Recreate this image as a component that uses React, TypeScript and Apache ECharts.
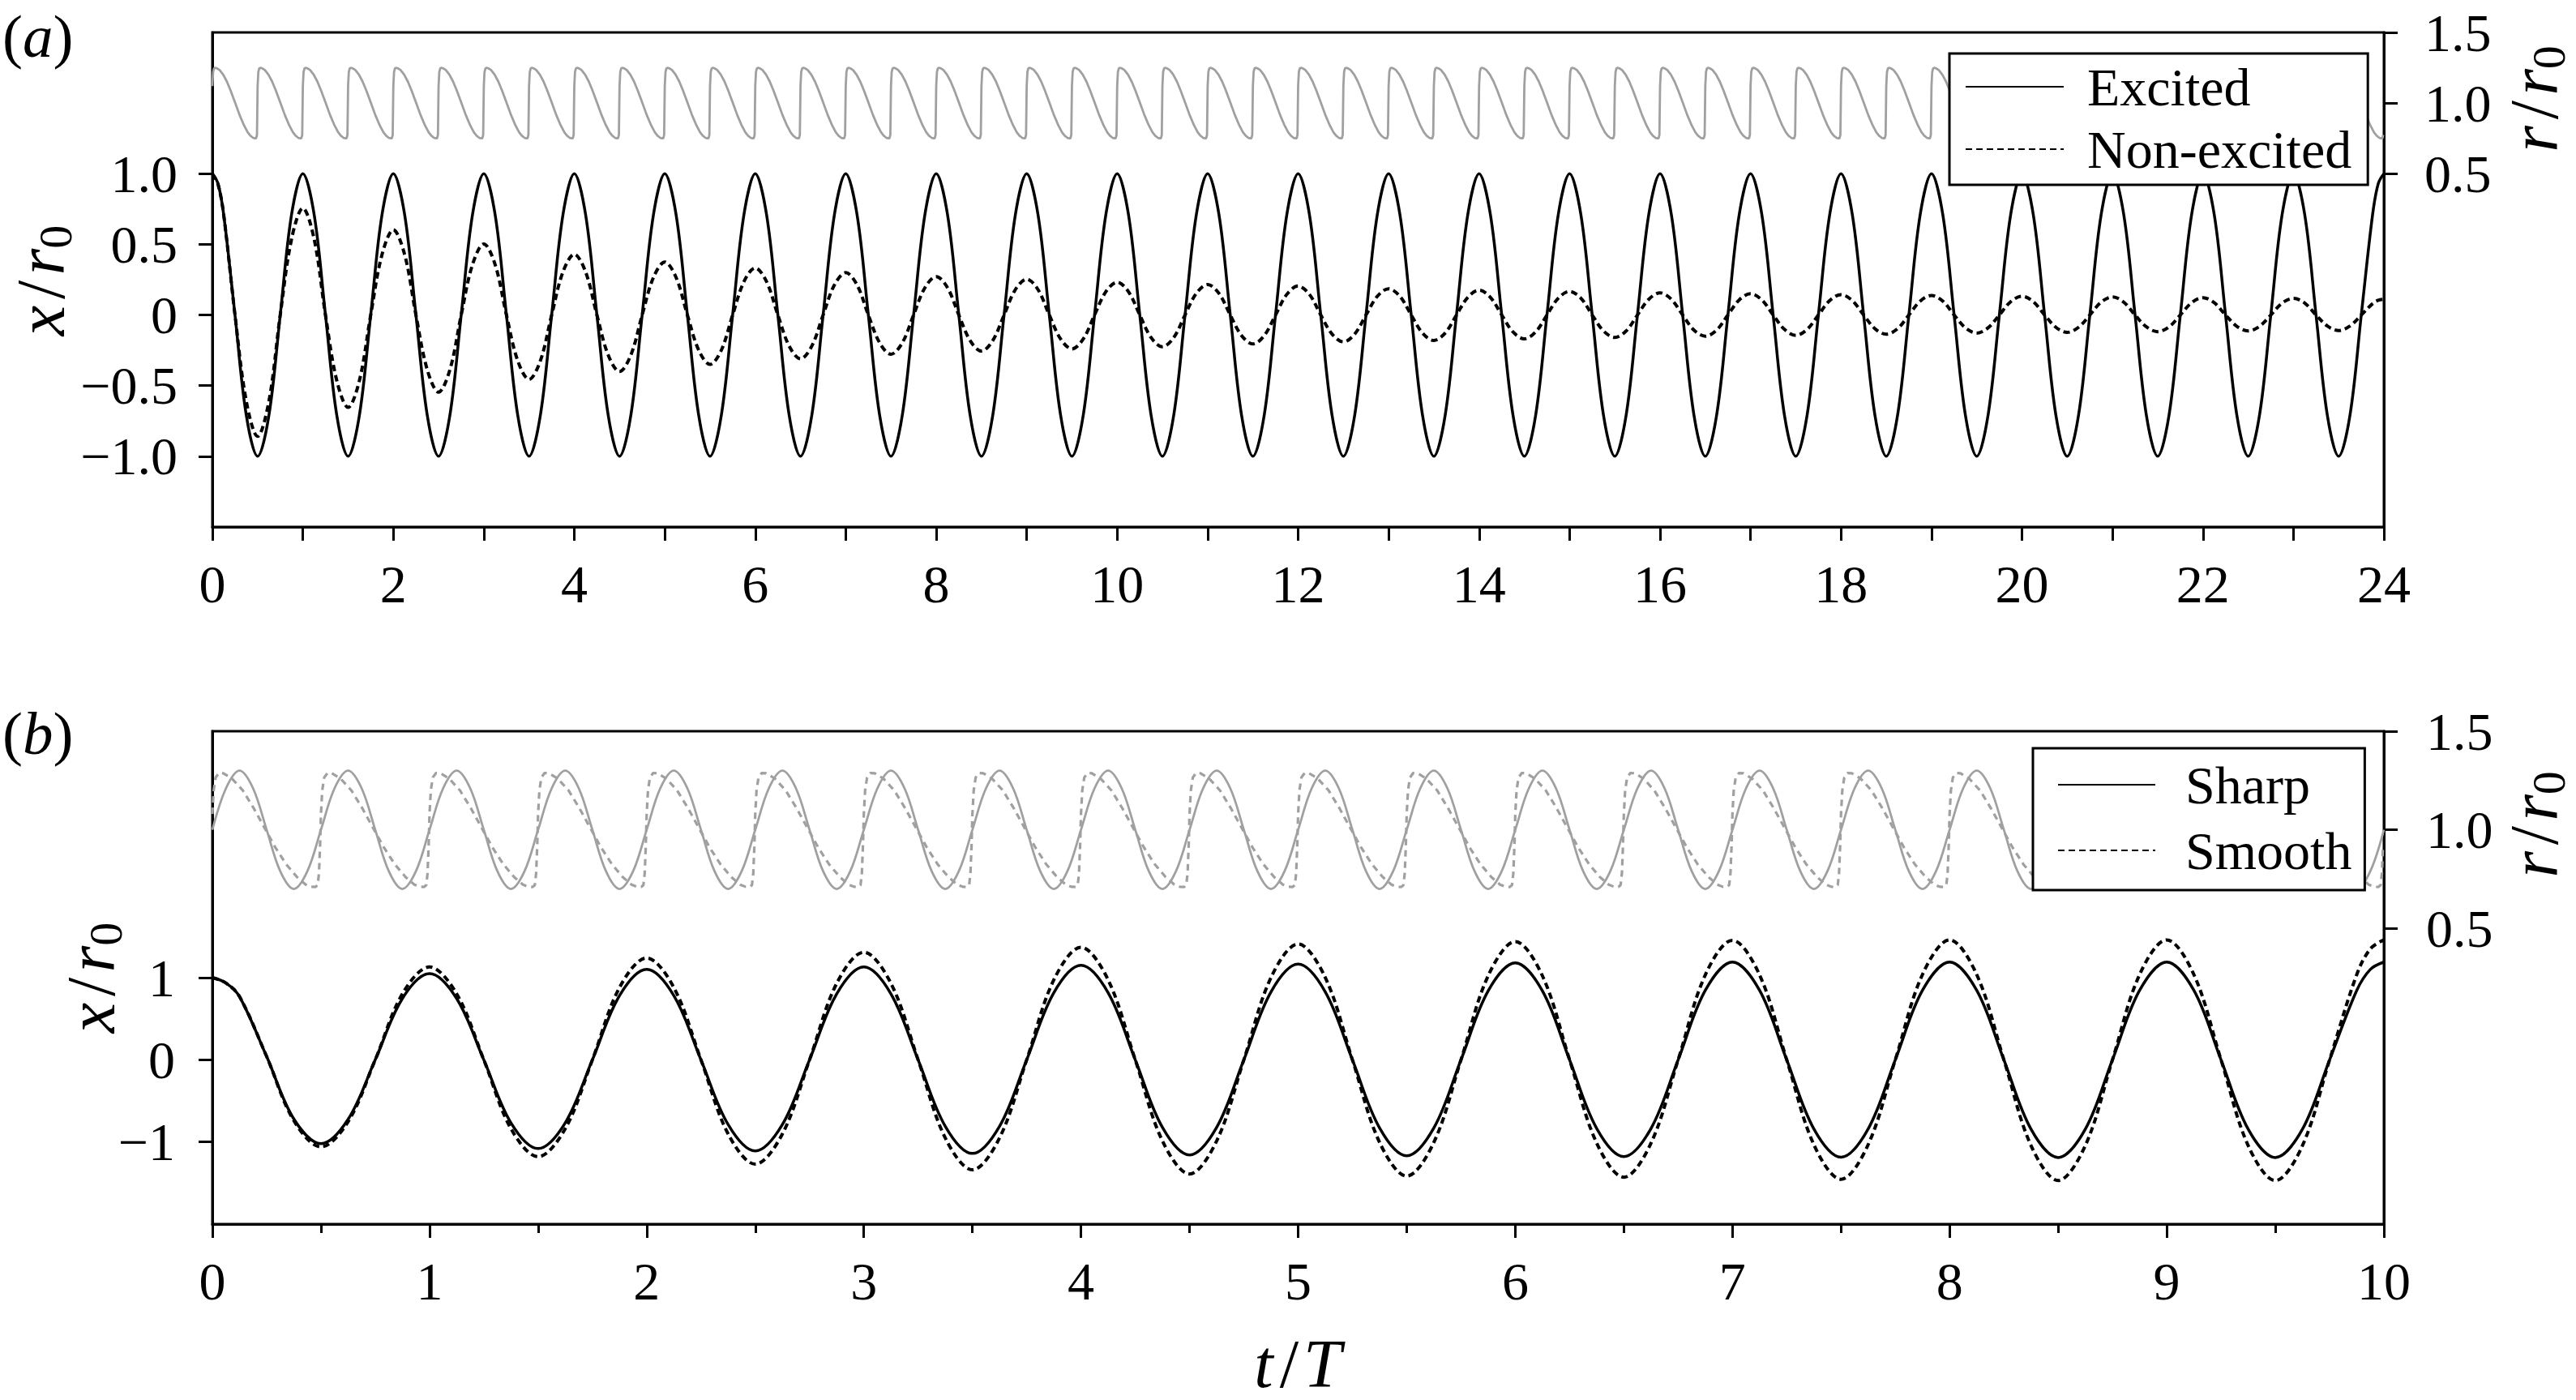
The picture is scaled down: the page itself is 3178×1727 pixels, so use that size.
import React, { useEffect, useRef } from "react";
import * as echarts from "echarts";

const FONT = "'Liberation Serif', 'Times New Roman', Times, serif";
const BLACK = "#000000";
const GRAY = "#a0a0a0";

// ---------- Panel (a): x/r0 vs t/T (0..24), sampled every 1/8 period ----------
const STEP_A = 0.125;
const excitedA = [
  1, 0.71, 0, -0.71, -1, -0.71, 0, 0.71,
  1, 0.71, 0, -0.71, -1, -0.71, 0, 0.71,
  1, 0.71, 0, -0.71, -1, -0.71, 0, 0.71,
  1, 0.71, 0, -0.71, -1, -0.71, 0, 0.71,
  1, 0.71, 0, -0.71, -1, -0.71, 0, 0.71,
  1, 0.71, 0, -0.71, -1, -0.71, 0, 0.71,
  1, 0.71, 0, -0.71, -1, -0.71, 0, 0.71,
  1, 0.71, 0, -0.71, -1, -0.71, 0, 0.71,
  1, 0.71, 0, -0.71, -1, -0.71, 0, 0.71,
  1, 0.71, 0, -0.71, -1, -0.71, 0, 0.71,
  1, 0.71, 0, -0.71, -1, -0.71, 0, 0.71,
  1, 0.71, 0, -0.71, -1, -0.71, 0, 0.71,
  1, 0.71, 0, -0.71, -1, -0.71, 0, 0.71,
  1, 0.71, 0, -0.71, -1, -0.71, 0, 0.71,
  1, 0.71, 0, -0.71, -1, -0.71, 0, 0.71,
  1, 0.71, 0, -0.71, -1, -0.71, 0, 0.71,
  1, 0.71, 0, -0.71, -1, -0.71, 0, 0.71,
  1, 0.71, 0, -0.71, -1, -0.71, 0, 0.71,
  1, 0.71, 0, -0.71, -1, -0.71, 0, 0.71,
  1, 0.71, 0, -0.71, -1, -0.71, 0, 0.71,
  1, 0.71, 0, -0.71, -1, -0.71, 0, 0.71,
  1, 0.71, 0, -0.71, -1, -0.71, 0, 0.71,
  1, 0.71, 0, -0.71, -1, -0.71, 0, 0.71,
  1, 0.71, 0, -0.71, -1, -0.71, 0, 0.71,
  1,
];
const nonExcitedA = [
  1.0, 0.71, 0, -0.61, -0.859, -0.61, 0, 0.537,
  0.756, 0.537, 0, -0.464, -0.654, -0.464, 0, 0.428,
  0.603, 0.428, 0, -0.388, -0.546, -0.388, 0, 0.357,
  0.503, 0.357, 0, -0.324, -0.456, -0.324, 0, 0.305,
  0.43, 0.305, 0, -0.284, -0.4, -0.284, 0, 0.266,
  0.375, 0.266, 0, -0.249, -0.35, -0.249, 0, 0.236,
  0.333, 0.236, 0, -0.22, -0.31, -0.22, 0, 0.213,
  0.3, 0.213, 0, -0.197, -0.278, -0.197, 0, 0.193,
  0.272, 0.193, 0, -0.181, -0.255, -0.181, 0, 0.18,
  0.253, 0.18, 0, -0.17, -0.24, -0.17, 0, 0.165,
  0.232, 0.165, 0, -0.16, -0.225, -0.16, 0, 0.153,
  0.216, 0.153, 0, -0.146, -0.205, -0.146, 0, 0.146,
  0.205, 0.146, 0, -0.135, -0.19, -0.135, 0, 0.132,
  0.186, 0.132, 0, -0.128, -0.18, -0.128, 0, 0.125,
  0.176, 0.125, 0, -0.12, -0.169, -0.12, 0, 0.119,
  0.167, 0.119, 0, -0.113, -0.159, -0.113, 0, 0.111,
  0.157, 0.111, 0, -0.107, -0.15, -0.107, 0, 0.107,
  0.151, 0.107, 0, -0.102, -0.144, -0.102, 0, 0.102,
  0.144, 0.102, 0, -0.097, -0.136, -0.097, 0, 0.098,
  0.138, 0.098, 0, -0.091, -0.128, -0.091, 0, 0.094,
  0.133, 0.094, 0, -0.087, -0.123, -0.087, 0, 0.091,
  0.128, 0.091, 0, -0.084, -0.118, -0.084, 0, 0.087,
  0.123, 0.087, 0, -0.08, -0.113, -0.08, 0, 0.084,
  0.118, 0.084, 0, -0.078, -0.11, -0.078, 0, 0.08,
  0.112,
];
// extra readings 1/16 period inside both ends (t = 0.0625 and t = 23.9375)
const excitedEndsA = [[0.0625, 0.93], [23.9375, 0.93]];
const nonExcitedEndsA = [[0.0625, 0.925], [23.9375, 0.104]];

// r/r0 in panel (a): one saw-tooth cycle (period 0.5), repeated
const R_PERIOD_A = 0.5;
const R_CYCLES_A = 48;
const rOffsetsA = [0, 0.008, 0.018, 0.03, 0.05, 0.08, 0.12, 0.16, 0.2, 0.25, 0.3, 0.35, 0.39, 0.42, 0.45, 0.475, 0.484, 0.493];
const rValuesA = [1.12, 1.22, 1.245, 1.25, 1.246, 1.234, 1.201, 1.153, 1.091, 1.005, 0.917, 0.842, 0.793, 0.769, 0.754, 0.75, 0.752, 0.775];

// ---------- Panel (b): x/r0 vs t/T (0..10) ----------
const STEP_B = 0.125;
const sharpB = [
  1.0, 0.77, 0.04, -0.72, -1.02, -0.724, 0, 0.746,
  1.05, 0.746, 0, -0.767, -1.08, -0.767, 0, 0.781,
  1.1, 0.781, 0, -0.788, -1.11, -0.788, 0, 0.802,
  1.13, 0.802, 0, -0.809, -1.14, -0.809, 0, 0.817,
  1.15, 0.817, 0, -0.822, -1.158, -0.822, 0, 0.827,
  1.165, 0.827, 0, -0.829, -1.168, -0.829, 0, 0.838,
  1.18, 0.838, 0, -0.836, -1.178, -0.836, 0, 0.845,
  1.19, 0.845, 0, -0.841, -1.185, -0.841, 0, 0.845,
  1.19, 0.845, 0, -0.845, -1.19, -0.845, 0, 0.845,
  1.19, 0.845, 0, -0.845, -1.19, -0.845, 0, 0.845,
  1.19,
];
const smoothB = [
  1.0, 0.77, 0.04, -0.74, -1.06, -0.753, 0, 0.802,
  1.13, 0.802, 0, -0.838, -1.18, -0.838, 0, 0.88,
  1.24, 0.88, 0, -0.902, -1.27, -0.902, 0, 0.93,
  1.31, 0.93, 0, -0.951, -1.34, -0.951, 0, 0.973,
  1.37, 0.973, 0, -0.987, -1.39, -0.987, 0, 1.001,
  1.41, 1.001, 0, -1.005, -1.416, -1.005, 0, 1.022,
  1.44, 1.022, 0, -1.015, -1.43, -1.015, 0, 1.033,
  1.455, 1.033, 0, -1.033, -1.455, -1.033, 0, 1.037,
  1.46, 1.037, 0, -1.044, -1.47, -1.044, 0, 1.037,
  1.46, 1.037, 0, -1.044, -1.47, -1.044, 0, 1.037,
  1.46,
];
const sharpEndsB = [[0.0625, 0.935], [9.9375, 1.1]];
const smoothEndsB = [[0.0625, 0.935], [9.9375, 1.35]];

// r/r0 for the sharp case, sampled every 1/16
const STEP_RB = 0.0625;
const rSharpB = [
  1, 1.21, 1.3, 1.21, 1, 0.79, 0.7, 0.79,
  1, 1.21, 1.3, 1.21, 1, 0.79, 0.7, 0.79,
  1, 1.21, 1.3, 1.21, 1, 0.79, 0.7, 0.79,
  1, 1.21, 1.3, 1.21, 1, 0.79, 0.7, 0.79,
  1, 1.21, 1.3, 1.21, 1, 0.79, 0.7, 0.79,
  1, 1.21, 1.3, 1.21, 1, 0.79, 0.7, 0.79,
  1, 1.21, 1.3, 1.21, 1, 0.79, 0.7, 0.79,
  1, 1.21, 1.3, 1.21, 1, 0.79, 0.7, 0.79,
  1, 1.21, 1.3, 1.21, 1, 0.79, 0.7, 0.79,
  1, 1.21, 1.3, 1.21, 1, 0.79, 0.7, 0.79,
  1, 1.21, 1.3, 1.21, 1, 0.79, 0.7, 0.79,
  1, 1.21, 1.3, 1.21, 1, 0.79, 0.7, 0.79,
  1, 1.21, 1.3, 1.21, 1, 0.79, 0.7, 0.79,
  1, 1.21, 1.3, 1.21, 1, 0.79, 0.7, 0.79,
  1, 1.21, 1.3, 1.21, 1, 0.79, 0.7, 0.79,
  1, 1.21, 1.3, 1.21, 1, 0.79, 0.7, 0.79,
  1, 1.21, 1.3, 1.21, 1, 0.79, 0.7, 0.79,
  1, 1.21, 1.3, 1.21, 1, 0.79, 0.7, 0.79,
  1, 1.21, 1.3, 1.21, 1, 0.79, 0.7, 0.79,
  1, 1.21, 1.3, 1.21, 1, 0.79, 0.7, 0.79,
  1,
];
// r/r0 for the smooth case: one cycle (period 0.5), repeated
const R_PERIOD_B = 0.5;
const R_CYCLES_B = 20;
const rSmoothOffsetsB = [0, 0.006, 0.015, 0.03, 0.05, 0.09, 0.14, 0.19, 0.24, 0.29, 0.34, 0.39, 0.43, 0.455, 0.475, 0.485, 0.491, 0.496];
const rSmoothValuesB = [1.08, 1.2, 1.265, 1.288, 1.287, 1.26, 1.2, 1.11, 1.01, 0.91, 0.825, 0.76, 0.722, 0.711, 0.71, 0.72, 0.78, 0.92];

// ---------- tick values ----------
const xMaxA = 24;
const xMaxB = 10;
const yTicksA = [-1, -0.5, 0, 0.5, 1];
const yTicksB = [-1, 0, 1];
const rTicks = [0.5, 1, 1.5];

const toPairs = (vals: number[], step: number) => vals.map((v, i) => [i * step, v]);
const withEnds = (pairs: number[][], ends: number[][]) =>
  [pairs[0], ends[0], ...pairs.slice(1, -1), ends[1], pairs[pairs.length - 1]];
const repeatCycle = (offs: number[], vals: number[], period: number, n: number) => {
  const out: number[][] = [];
  for (let k = 0; k < n; k++) {
    for (let j = 0; j < offs.length; j++) out.push([k * period + offs[j], vals[j]]);
  }
  return out;
};

const minus = (s: string) => s.replace("-", "\u2212");

const labelBase = { color: BLACK, fontFamily: FONT, fontSize: 66 };
const axisLineBase = { show: true, onZero: false, lineStyle: { color: BLACK, width: 3 } };
const tickBase = { show: true, inside: false, length: 17, lineStyle: { color: BLACK, width: 3 } };

const titleRich: any = {
  i: { fontFamily: FONT, fontStyle: "italic", fontSize: 84, lineHeight: 94, fill: BLACK },
  s: { fontFamily: FONT, fontSize: 84, lineHeight: 94, fill: BLACK, padding: [0, 6, 0, 8] },
  b: { fontFamily: FONT, fontSize: 58, lineHeight: 46, verticalAlign: "bottom", fill: BLACK },
  n: { fontFamily: FONT, fontSize: 75, lineHeight: 84, fill: BLACK },
  p: { fontFamily: FONT, fontStyle: "italic", fontSize: 75, lineHeight: 84, fill: BLACK },
};

function buildOption(): any {
  const legendBase = {
    orient: "vertical",
    selectedMode: false,
    borderColor: BLACK,
    borderWidth: 3,
    borderRadius: 0,
    backgroundColor: "#ffffff",
    itemHeight: 2,
    itemStyle: { color: "rgba(0,0,0,0)", borderColor: "rgba(0,0,0,0)", borderWidth: 0, opacity: 0 },
  };
  return {
    animation: false,
    backgroundColor: "#ffffff",
    grid: [
      { left: 262, top: 40, width: 2679, height: 610, show: true, borderColor: BLACK, borderWidth: 3, backgroundColor: "transparent", outerBoundsMode: "none" },
      { left: 262, top: 902, width: 2679, height: 608, show: true, borderColor: BLACK, borderWidth: 3, backgroundColor: "transparent", outerBoundsMode: "none" },
    ],
    xAxis: [
      {
        gridIndex: 0, type: "value", min: 0, max: xMaxA, interval: 1,
        axisLine: axisLineBase, axisTick: tickBase, splitLine: { show: false },
        axisLabel: { ...labelBase, margin: 37, formatter: (v: number) => (v % 2 === 0 ? String(v) : "") },
      },
      {
        gridIndex: 1, type: "value", min: 0, max: xMaxB, interval: 1,
        axisLine: axisLineBase, axisTick: tickBase, splitLine: { show: false },
        minorTick: { show: true, splitNumber: 2, length: 11, lineStyle: { color: BLACK, width: 3 } },
        minorSplitLine: { show: false },
        axisLabel: { ...labelBase, margin: 37, formatter: (v: number) => String(v) },
      },
    ],
    yAxis: [
      {
        gridIndex: 0, type: "value", position: "left", min: -1.5, max: 2, interval: 0.5,
        axisLine: axisLineBase, splitLine: { show: false },
        axisTick: { ...tickBase, customValues: yTicksA },
        axisLabel: { ...labelBase, margin: 43, customValues: yTicksA, formatter: (v: number) => (v === 0 ? "0" : minus(v.toFixed(1))) },
      },
      {
        gridIndex: 0, type: "value", position: "right", min: -2, max: 1.5, interval: 0.5,
        axisLine: axisLineBase, splitLine: { show: false },
        axisTick: { ...tickBase, customValues: rTicks },
        axisLabel: { ...labelBase, margin: 50, customValues: rTicks, formatter: (v: number) => v.toFixed(1) },
      },
      {
        gridIndex: 1, type: "value", position: "left", min: -2, max: 4, interval: 1,
        axisLine: axisLineBase, splitLine: { show: false },
        axisTick: { ...tickBase, customValues: yTicksB },
        axisLabel: { ...labelBase, margin: 46, customValues: yTicksB, formatter: (v: number) => minus(String(v)) },
      },
      {
        gridIndex: 1, type: "value", position: "right", min: -1, max: 1.5, interval: 0.5,
        axisLine: axisLineBase, splitLine: { show: false },
        axisTick: { ...tickBase, customValues: rTicks },
        axisLabel: { ...labelBase, margin: 52, customValues: rTicks, formatter: (v: number) => v.toFixed(1) },
      },
    ],
    legend: [
      {
        ...legendBase,
        data: ["Excited", "Non-excited"],
        left: 2405, top: 66,
        itemWidth: 121, itemGap: 11,
        padding: [8, 20, 11, 19],
        textStyle: { fontFamily: FONT, fontSize: 66, color: BLACK, lineHeight: 64, padding: [0, 0, 0, 24] },
      },
      {
        ...legendBase,
        data: ["Sharp", "Smooth"],
        left: 2508, top: 923,
        itemWidth: 120, itemGap: 15,
        padding: [12, 16, 16, 30],
        textStyle: { fontFamily: FONT, fontSize: 66, color: BLACK, lineHeight: 64, padding: [0, 0, 0, 32] },
      },
    ],
    series: [
      {
        name: "r/r0 (a)", type: "line", xAxisIndex: 0, yAxisIndex: 1, symbol: "none", smooth: false,
        data: repeatCycle(rOffsetsA, rValuesA, R_PERIOD_A, R_CYCLES_A),
        lineStyle: { color: GRAY, width: 2.8 }, z: 2,
      },
      {
        name: "Excited", type: "line", xAxisIndex: 0, yAxisIndex: 0, symbol: "none", smooth: 0.35,
        data: withEnds(toPairs(excitedA, STEP_A), excitedEndsA),
        lineStyle: { color: BLACK, width: 3.5 }, itemStyle: { color: BLACK }, z: 3,
      },
      {
        name: "Non-excited", type: "line", xAxisIndex: 0, yAxisIndex: 0, symbol: "none", smooth: 0.35,
        data: withEnds(toPairs(nonExcitedA, STEP_A), nonExcitedEndsA),
        lineStyle: { color: BLACK, width: 4, type: [8, 5] }, itemStyle: { color: BLACK }, z: 3,
      },
      {
        name: "r/r0 sharp", type: "line", xAxisIndex: 1, yAxisIndex: 3, symbol: "none", smooth: 0.35,
        data: toPairs(rSharpB, STEP_RB),
        lineStyle: { color: GRAY, width: 2.8 }, z: 2,
      },
      {
        name: "r/r0 smooth", type: "line", xAxisIndex: 1, yAxisIndex: 3, symbol: "none", smooth: false,
        data: repeatCycle(rSmoothOffsetsB, rSmoothValuesB, R_PERIOD_B, R_CYCLES_B),
        lineStyle: { color: GRAY, width: 3.2, type: [8, 6] }, z: 2,
      },
      {
        name: "Sharp", type: "line", xAxisIndex: 1, yAxisIndex: 2, symbol: "none", smooth: 0.35,
        data: withEnds(toPairs(sharpB, STEP_B), sharpEndsB),
        lineStyle: { color: BLACK, width: 3.5 }, itemStyle: { color: BLACK }, z: 3,
      },
      {
        name: "Smooth", type: "line", xAxisIndex: 1, yAxisIndex: 2, symbol: "none", smooth: 0.35,
        data: withEnds(toPairs(smoothB, STEP_B), smoothEndsB),
        lineStyle: { color: BLACK, width: 4, type: [8, 5] }, itemStyle: { color: BLACK }, z: 3,
      },
    ],
    graphic: [
      { type: "text", x: 3, y: 44, style: { text: "{n|(}{p|a}{n|)}", align: "left", verticalAlign: "middle", rich: titleRich } },
      { type: "text", x: 3, y: 904, style: { text: "{n|(}{p|b}{n|)}", align: "left", verticalAlign: "middle", rich: titleRich } },
      { type: "text", x: 50, y: 346, rotation: Math.PI / 2, style: { text: "{i|x}{s|/}{i|r}{b|0}", align: "center", verticalAlign: "middle", rich: titleRich } },
      { type: "text", x: 112, y: 1206, rotation: Math.PI / 2, style: { text: "{i|x}{s|/}{i|r}{b|0}", align: "center", verticalAlign: "middle", rich: titleRich } },
      { type: "text", x: 3126, y: 122, rotation: Math.PI / 2, style: { text: "{i|r}{s|/}{i|r}{b|0}", align: "center", verticalAlign: "middle", rich: titleRich } },
      { type: "text", x: 3126, y: 1017, rotation: Math.PI / 2, style: { text: "{i|r}{s|/}{i|r}{b|0}", align: "center", verticalAlign: "middle", rich: titleRich } },
      { type: "text", x: 1601, y: 1682, style: { text: "{i|t}{s|/}{i|T}", align: "center", verticalAlign: "middle", rich: titleRich } },
    ],
  };
}

export default function App() {
  const ref = useRef<HTMLDivElement>(null);
  useEffect(() => {
    if (!ref.current) return;
    const chart = echarts.init(ref.current, null, { renderer: "svg" });
    chart.setOption(buildOption());
    return () => chart.dispose();
  }, []);
  return (
    <div
      ref={ref}
      style={{ position: "absolute", left: 0, top: 0, width: 3178, height: 1727, background: "#ffffff" }}
    />
  );
}
